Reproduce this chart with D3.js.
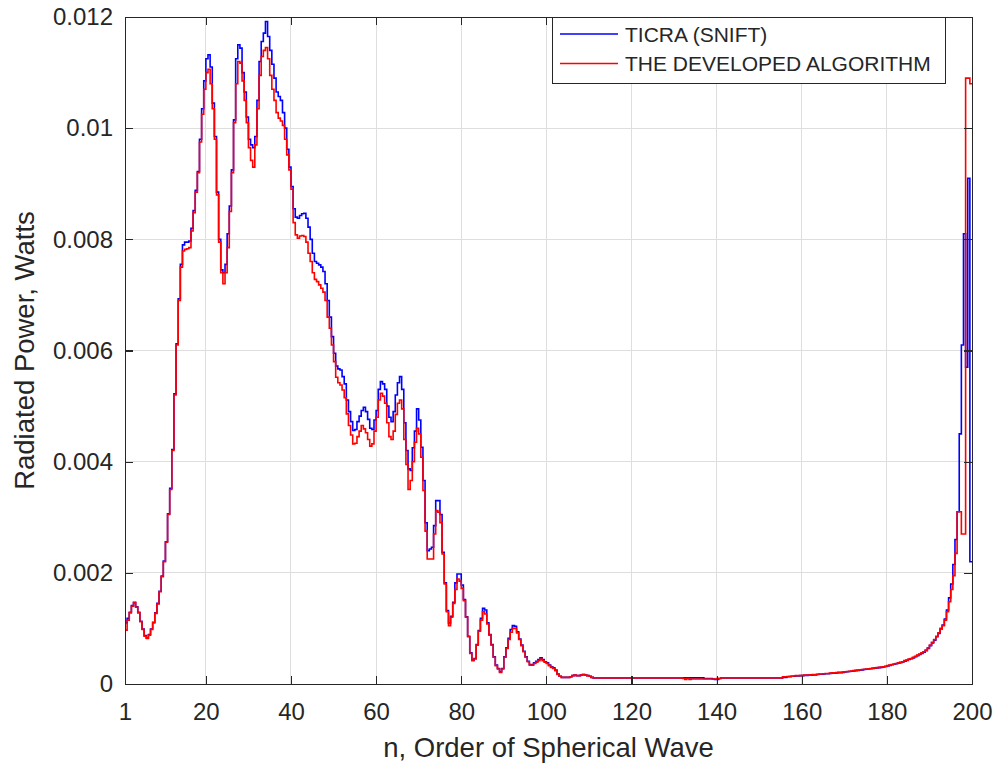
<!DOCTYPE html>
<html><head><meta charset="utf-8">
<script src="https://cdn.jsdelivr.net/npm/d3@7"></script>
<style>
body{margin:0;background:#fff;}
svg{display:block;font-family:"Liberation Sans",Arial,Helvetica,sans-serif;}
</style>
</head><body>
<svg id="chart" width="994" height="771"></svg>
<script>
// ---------------- data ----------------
// n from 1 to 200 in half-order steps (stairs plot)
const nOrder = d3.range(1, 200.25, 0.5);
const xTicks = [1, 20, 40, 60, 80, 100, 120, 140, 160, 180, 200];
const yTicks = [0, 0.002, 0.004, 0.006, 0.008, 0.010, 0.012];
const yTickLabels = ["0", "0.002", "0.004", "0.006", "0.008", "0.01", "0.012"];
const seriesNames = ["TICRA (SNIFT)", "THE DEVELOPED ALGORITHM"];
const seriesColors = ["#0000ff", "#ff0000"];
const xLabel = "n, Order of Spherical Wave";
const yLabel = "Radiated Power, Watts";

// radiated power in milliwatts
const ticraMilliW = [
  1.10, 1.18, 1.29, 1.41, 1.47, 1.39, 1.29, 1.13, 0.99, 0.87,
  0.83, 0.89, 0.99, 1.11, 1.28, 1.45, 1.67, 1.94, 2.21, 2.56,
  3.06, 3.52, 4.22, 5.22, 6.12, 6.93, 7.55, 7.90, 7.95, 7.95,
  7.97, 8.20, 8.52, 8.88, 9.22, 9.80, 10.35, 10.85, 11.25, 11.32,
  11.10, 10.45, 9.85, 8.85, 8.00, 7.45, 7.40, 7.55, 8.10, 8.60,
  9.25, 10.15, 11.25, 11.50, 11.44, 11.00, 10.65, 10.20, 9.80, 9.70,
  9.65, 9.85, 10.50, 11.20, 11.56, 11.71, 11.92, 11.65, 11.40, 11.15,
  10.90, 10.65, 10.57, 10.50, 10.28, 10.00, 9.62, 9.30, 8.95, 8.55,
  8.40, 8.38, 8.43, 8.46, 8.47, 8.38, 8.22, 8.00, 7.75, 7.60,
  7.57, 7.54, 7.50, 7.42, 7.20, 6.90, 6.60, 6.25, 5.95, 5.72,
  5.67, 5.65, 5.53, 5.40, 5.11, 4.90, 4.72, 4.56, 4.58, 4.72,
  4.82, 4.92, 4.98, 4.90, 4.76, 4.60, 4.58, 4.75, 4.92, 5.30,
  5.44, 5.40, 5.30, 5.00, 4.80, 4.72, 4.90, 5.20, 5.42, 5.53,
  5.30, 4.70, 4.20, 3.87, 3.84, 4.25, 4.55, 4.95, 4.75, 4.26,
  3.66, 2.90, 2.40, 2.43, 2.46, 2.85, 3.30, 3.30, 3.05, 2.37,
  1.82, 1.32, 1.10, 1.22, 1.47, 1.82, 1.98, 1.98, 1.78, 1.52,
  1.21, 0.86, 0.56, 0.43, 0.46, 0.71, 0.96, 1.18, 1.36, 1.33,
  1.10, 0.89, 0.71, 0.49, 0.34, 0.28, 0.22, 0.28, 0.49, 0.65,
  0.82, 0.98, 1.05, 1.04, 0.94, 0.81, 0.70, 0.59, 0.49, 0.41,
  0.35, 0.35, 0.38, 0.41, 0.44, 0.47, 0.44, 0.40, 0.38, 0.34,
  0.31, 0.29, 0.25, 0.18, 0.14, 0.12, 0.12, 0.12, 0.12, 0.13,
  0.15, 0.16, 0.15, 0.15, 0.16, 0.17, 0.16, 0.15, 0.14, 0.12,
  0.11, 0.11, 0.11, 0.11, 0.11, 0.11, 0.11, 0.11, 0.11, 0.11,
  0.11, 0.11, 0.11, 0.11, 0.11, 0.11, 0.11, 0.11, 0.11, 0.11,
  0.11, 0.11, 0.11, 0.11, 0.11, 0.11, 0.11, 0.11, 0.11, 0.11,
  0.11, 0.11, 0.11, 0.11, 0.11, 0.11, 0.11, 0.11, 0.11, 0.11,
  0.11, 0.11, 0.11, 0.11, 0.11, 0.11, 0.11, 0.11, 0.11, 0.11,
  0.11, 0.11, 0.10, 0.10, 0.10, 0.10, 0.09, 0.08, 0.08, 0.10,
  0.11, 0.11, 0.11, 0.11, 0.11, 0.11, 0.11, 0.11, 0.11, 0.11,
  0.11, 0.11, 0.11, 0.11, 0.11, 0.11, 0.11, 0.11, 0.11, 0.11,
  0.11, 0.11, 0.11, 0.11, 0.11, 0.11, 0.11, 0.11, 0.11, 0.12,
  0.12, 0.13, 0.13, 0.14, 0.14, 0.145, 0.145, 0.15, 0.15, 0.155,
  0.155, 0.16, 0.16, 0.165, 0.165, 0.17, 0.175, 0.175, 0.18, 0.185,
  0.185, 0.19, 0.195, 0.195, 0.20, 0.205, 0.205, 0.21, 0.215, 0.22,
  0.225, 0.23, 0.235, 0.24, 0.245, 0.25, 0.255, 0.26, 0.265, 0.27,
  0.275, 0.28, 0.285, 0.29, 0.295, 0.30, 0.305, 0.315, 0.325, 0.335,
  0.345, 0.355, 0.365, 0.375, 0.385, 0.395, 0.41, 0.425, 0.44, 0.455,
  0.47, 0.49, 0.51, 0.53, 0.55, 0.57, 0.60, 0.64, 0.69, 0.74,
  0.79, 0.85, 0.91, 0.99, 1.06, 1.17, 1.33, 1.55, 1.80, 2.15,
  2.60, 3.10, 4.50, 6.10, 8.10, 5.70, 9.10, 2.20, 2.20
];

const developedMilliW = [
  0.97, 1.15, 1.28, 1.40, 1.46, 1.38, 1.28, 1.12, 0.98, 0.86,
  0.82, 0.88, 0.98, 1.10, 1.27, 1.44, 1.66, 1.93, 2.20, 2.55,
  3.05, 3.50, 4.20, 5.20, 6.10, 6.90, 7.50, 7.79, 7.82, 7.83,
  7.85, 8.15, 8.48, 8.85, 9.20, 9.75, 10.25, 10.70, 11.00, 11.06,
  10.80, 10.35, 9.80, 8.80, 7.95, 7.40, 7.20, 7.40, 7.85, 8.50,
  9.20, 10.10, 10.80, 11.20, 11.17, 10.85, 10.50, 10.10, 9.65, 9.42,
  9.30, 9.70, 10.35, 10.95, 11.29, 11.40, 11.45, 11.25, 10.95, 10.70,
  10.50, 10.28, 10.18, 10.13, 10.05, 9.80, 9.52, 9.25, 8.90, 8.30,
  8.08, 8.02, 8.06, 8.07, 8.05, 7.95, 7.75, 7.60, 7.40, 7.28,
  7.24, 7.18, 7.12, 7.05, 6.90, 6.60, 6.40, 6.10, 5.80, 5.52,
  5.42, 5.38, 5.29, 5.15, 4.86, 4.65, 4.48, 4.32, 4.33, 4.45,
  4.55, 4.65, 4.59, 4.52, 4.40, 4.28, 4.32, 4.55, 4.80, 5.11,
  5.23, 5.18, 5.05, 4.70, 4.45, 4.40, 4.55, 4.85, 5.05, 5.11,
  4.95, 4.40, 3.95, 3.50, 3.66, 4.00, 4.35, 4.60, 4.50, 4.08,
  3.48, 2.75, 2.25, 2.25, 2.25, 2.70, 3.12, 3.09, 2.90, 2.34,
  1.80, 1.30, 1.05, 1.20, 1.45, 1.70, 1.89, 1.85, 1.72, 1.50,
  1.20, 0.85, 0.55, 0.42, 0.45, 0.70, 0.95, 1.15, 1.30, 1.26,
  1.08, 0.88, 0.70, 0.48, 0.33, 0.27, 0.21, 0.27, 0.48, 0.64,
  0.80, 0.93, 1.00, 1.00, 0.92, 0.80, 0.69, 0.58, 0.48, 0.40,
  0.34, 0.34, 0.37, 0.39, 0.42, 0.45, 0.42, 0.39, 0.37, 0.33,
  0.30, 0.28, 0.24, 0.17, 0.14, 0.12, 0.12, 0.12, 0.12, 0.13,
  0.15, 0.16, 0.15, 0.15, 0.16, 0.17, 0.16, 0.15, 0.14, 0.12,
  0.11, 0.11, 0.11, 0.11, 0.11, 0.11, 0.11, 0.11, 0.11, 0.11,
  0.11, 0.11, 0.11, 0.11, 0.11, 0.11, 0.11, 0.11, 0.11, 0.11,
  0.11, 0.11, 0.11, 0.11, 0.11, 0.11, 0.11, 0.11, 0.11, 0.11,
  0.11, 0.11, 0.11, 0.11, 0.11, 0.11, 0.11, 0.11, 0.11, 0.11,
  0.11, 0.11, 0.10, 0.08, 0.10, 0.08, 0.09, 0.09, 0.09, 0.09,
  0.09, 0.09, 0.09, 0.09, 0.09, 0.09, 0.09, 0.09, 0.10, 0.10,
  0.11, 0.11, 0.11, 0.11, 0.11, 0.11, 0.11, 0.11, 0.11, 0.11,
  0.11, 0.11, 0.11, 0.11, 0.11, 0.11, 0.11, 0.11, 0.11, 0.11,
  0.11, 0.11, 0.11, 0.11, 0.11, 0.11, 0.11, 0.11, 0.11, 0.13,
  0.13, 0.135, 0.14, 0.14, 0.145, 0.15, 0.15, 0.15, 0.155, 0.16,
  0.16, 0.16, 0.165, 0.17, 0.17, 0.175, 0.18, 0.18, 0.185, 0.19,
  0.19, 0.195, 0.20, 0.20, 0.205, 0.21, 0.21, 0.215, 0.22, 0.225,
  0.23, 0.235, 0.24, 0.245, 0.25, 0.255, 0.26, 0.265, 0.27, 0.275,
  0.28, 0.285, 0.29, 0.295, 0.30, 0.305, 0.31, 0.32, 0.33, 0.34,
  0.35, 0.36, 0.37, 0.38, 0.39, 0.40, 0.42, 0.43, 0.45, 0.46,
  0.48, 0.50, 0.52, 0.54, 0.56, 0.58, 0.61, 0.65, 0.70, 0.75,
  0.80, 0.86, 0.92, 1.00, 1.05, 1.15, 1.30, 1.48, 1.70, 1.95,
  2.35, 3.10, 3.10, 2.70, 2.70, 10.90, 10.90, 10.80, 10.80
];

if (ticraMilliW.length !== nOrder.length || developedMilliW.length !== nOrder.length) {
  throw new Error("length mismatch " + nOrder.length + " " + ticraMilliW.length + " " + developedMilliW.length);
}

// ---------------- layout ----------------
const L = 125, R = 972, T = 17, B = 684;
const ink = "#262626";
const svg = d3.select("#chart");
svg.append("rect").attr("width", 994).attr("height", 771).attr("fill", "#fff");

const x = d3.scaleLinear().domain([1, 200]).range([L, R]);
const y = d3.scaleLinear().domain([0, 0.012]).range([B, T]);

// grid
const grid = svg.append("g").attr("shape-rendering", "crispEdges");
grid.selectAll("line.gx").data(xTicks.slice(1, -1)).join("line")
  .attr("x1", d => x(d)).attr("x2", d => x(d)).attr("y1", T).attr("y2", B)
  .attr("stroke", "#dedede").attr("stroke-width", 1);
grid.selectAll("line.gy").data(yTicks.slice(1, -1)).join("line")
  .attr("y1", d => y(d)).attr("y2", d => y(d)).attr("x1", L).attr("x2", R)
  .attr("stroke", "#dedede").attr("stroke-width", 1);

// series (stairs)
const series = [
  { name: seriesNames[0], color: seriesColors[0], values: ticraMilliW },
  { name: seriesNames[1], color: seriesColors[1], values: developedMilliW }
];
const line = d3.line()
  .x((d, i) => x(nOrder[i]))
  .y(d => y(d / 1000))
  .curve(d3.curveStepAfter);
const plot = svg.append("g");
series.forEach(s => {
  plot.append("path").datum(s.values)
    .attr("d", line).attr("fill", "none")
    .attr("stroke", s.color).attr("stroke-width", 1.6)
    .attr("stroke-linejoin", "miter");
});

// axes
const tickFont = 24;
const xAxis = d3.axisBottom(x).tickValues(xTicks).tickFormat(d3.format("d"))
  .tickSizeInner(-8).tickSizeOuter(0).tickPadding(19);
const yAxis = d3.axisLeft(y).tickValues(yTicks)
  .tickFormat((d, i) => yTickLabels[i]).tickSizeInner(-8).tickSizeOuter(0).tickPadding(12);
const xTop = d3.axisTop(x).tickValues(xTicks).tickFormat("").tickSizeInner(-8).tickSizeOuter(0);
const yRight = d3.axisRight(y).tickValues(yTicks).tickFormat("").tickSizeInner(-8).tickSizeOuter(0);

function style(g) {
  g.selectAll("path.domain").attr("stroke", ink).attr("stroke-width", 1.2);
  g.selectAll(".tick line").attr("stroke", ink).attr("stroke-width", 1.2);
  g.selectAll(".tick text").attr("fill", ink).style("font-size", tickFont + "px")
    .style("font-family", '"Liberation Sans",Arial,Helvetica,sans-serif');
  g.attr("shape-rendering", "crispEdges");
}
svg.append("g").attr("transform", `translate(0,${B})`).call(xAxis).call(style);
svg.append("g").attr("transform", `translate(${L},0)`).call(yAxis).call(style);
svg.append("g").attr("transform", `translate(0,${T})`).call(xTop).call(style);
svg.append("g").attr("transform", `translate(${R},0)`).call(yRight).call(style);

// axis labels
svg.append("text").attr("x", (L + R) / 2).attr("y", 757)
  .attr("text-anchor", "middle").attr("fill", ink)
  .style("font-size", "27.5px").text(xLabel);
svg.append("text")
  .attr("transform", `translate(34,${(T + B) / 2}) rotate(-90)`)
  .attr("text-anchor", "middle").attr("fill", ink)
  .style("font-size", "27.5px").text(yLabel);

// legend
const lg = svg.append("g");
lg.append("rect").attr("x", 552.5).attr("y", 17.5).attr("width", 393).attr("height", 66)
  .attr("fill", "#fff").attr("stroke", ink).attr("stroke-width", 1.2)
  .attr("shape-rendering", "crispEdges");
const rowsY = [34, 63.5];
series.forEach((s, i) => {
  lg.append("line").attr("x1", 560).attr("x2", 618)
    .attr("y1", rowsY[i]).attr("y2", rowsY[i])
    .attr("stroke", s.color).attr("stroke-width", 1.6);
  lg.append("text").attr("x", 625).attr("y", rowsY[i] + 7.5)
    .attr("fill", ink).style("font-size", "21px").text(s.name);
});
</script>
</body></html>
